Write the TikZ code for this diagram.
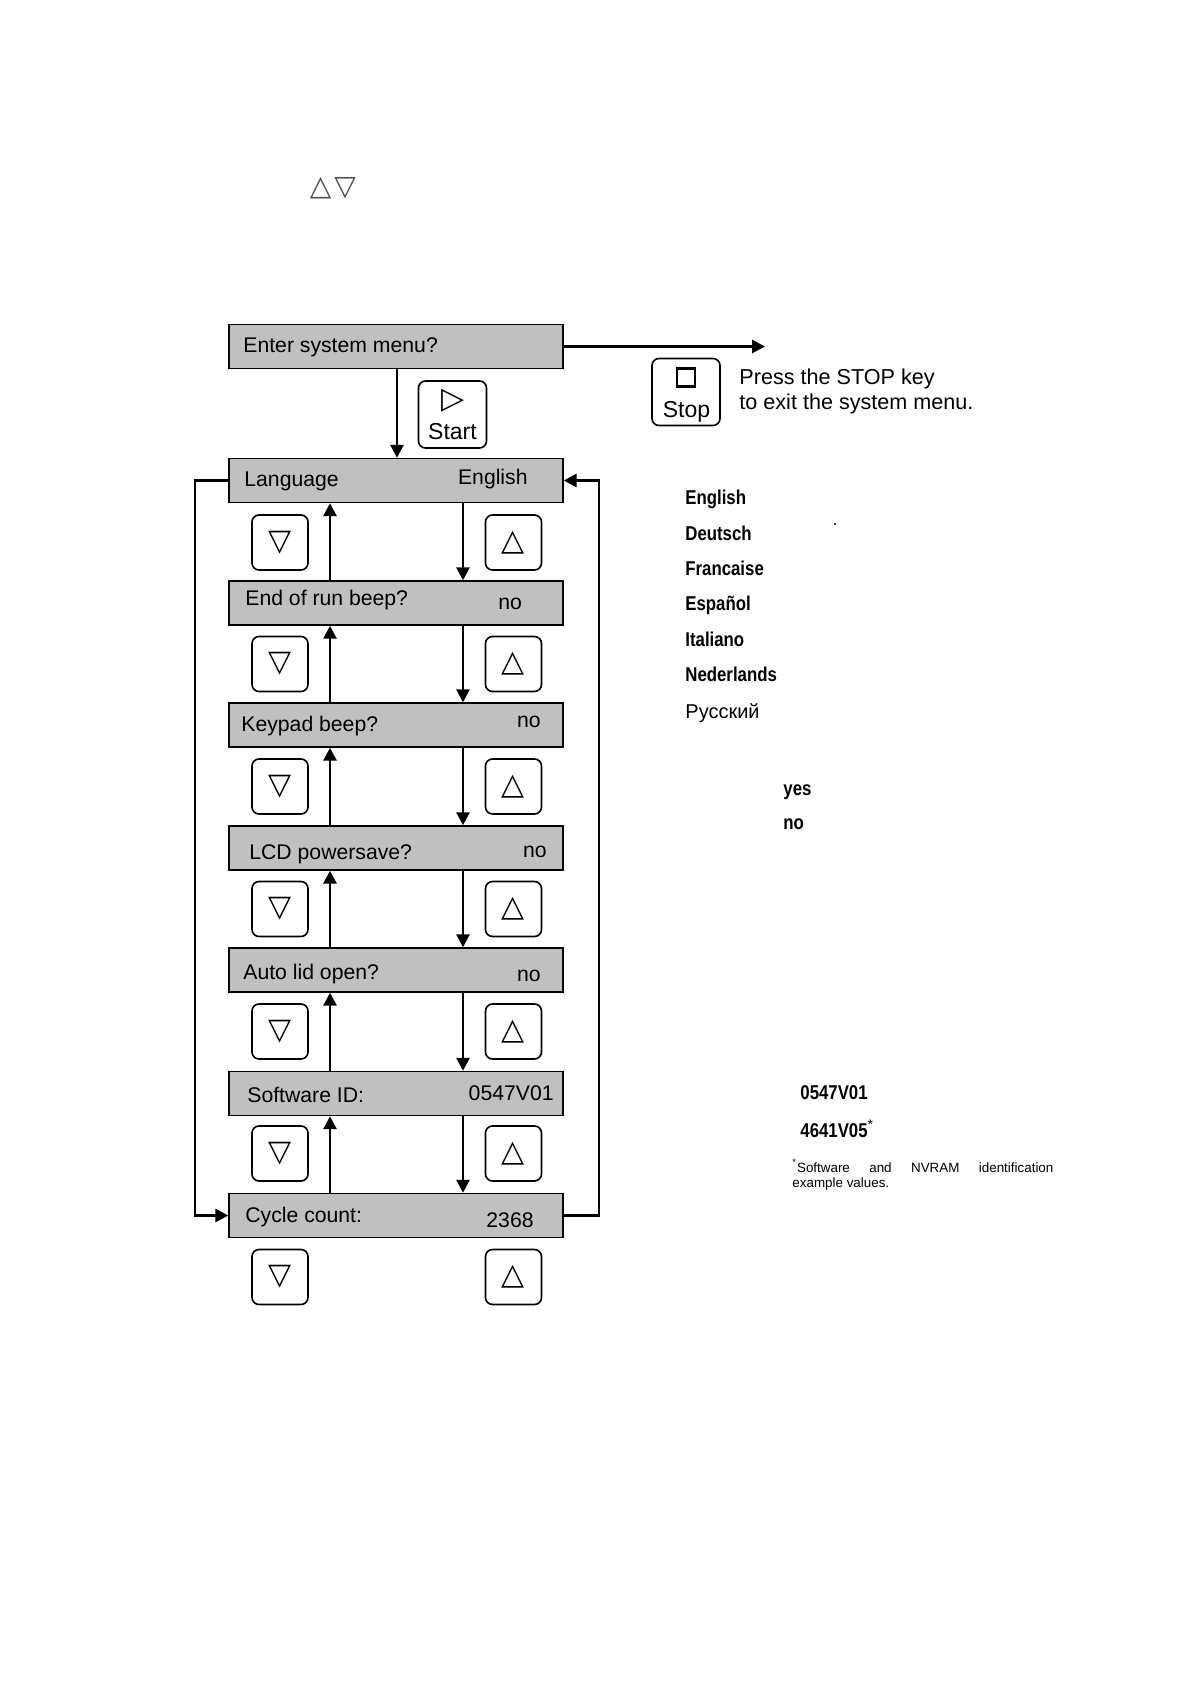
\documentclass[tikz,border=0pt]{standalone}
\usepackage{fontspec}
\setmainfont{Liberation Sans}
\newfontfamily\symfont{DejaVu Sans}
\newfontfamily\narrowfont[FakeStretch=0.84]{Liberation Sans}
\usetikzlibrary{arrows.meta}
\definecolor{boxgray}{RGB}{192,192,192}
\begin{document}
\begin{tikzpicture}[x=0.5pt,y=-0.5pt,
  menubox/.style={draw=black, line width=0.7pt, fill=boxgray, minimum width=167pt, minimum height=22pt, inner sep=0pt},
  keybox/.style={draw=black, line width=0.8pt, rounded corners=3.5pt, minimum width=28pt, minimum height=27.5pt, inner sep=0pt},
  bigkey/.style={draw=black, line width=0.8pt, rounded corners=3.5pt, minimum width=34pt, minimum height=33.5pt, inner sep=0pt},
  keysym/.style={font=\symfont\fontsize{15}{15}\selectfont, inner sep=0pt},
  lbl/.style={anchor=base west, inner sep=0pt, font=\fontsize{10.6}{12}\selectfont},
  val/.style={anchor=base east, inner sep=0pt, font=\fontsize{10.6}{12}\selectfont},
  opt/.style={anchor=base west, inner sep=0pt, font=\narrowfont\bfseries\fontsize{10}{12}\selectfont},
  note/.style={anchor=base west, inner sep=0pt, font=\fontsize{6.7}{7.5}\selectfont},
  conn/.style={line width=1.4pt, -{Triangle[length=6.5pt,width=6.5pt]}}]
\useasboundingbox (0,0) rectangle (1191,1684);

% top symbols
\node[inner sep=0pt, font=\symfont\fontsize{14}{14}\selectfont, text=black!70] (topsym) at (333,188) {△\hspace{1.5pt}▽};

% menu boxes
\node[menubox] (enter) at (396,346.5) {};
\node[menubox] (lang)  at (396,480.5) {};
\node[menubox] (endr)  at (396,603) {};
\node[menubox] (keyp)  at (396,725) {};
\node[menubox] (lcd)   at (396,848) {};
\node[menubox] (auto)  at (396,970) {};
\node[menubox] (soft)  at (396,1093.5) {};
\node[menubox] (cyc)   at (396,1215.5) {};

% box texts
\node[lbl] (t1) at (243,353) {Enter system menu?};
\node[lbl] (t2) at (244,487) {Language};
\node[val] (v2) at (528,484) {English};
\node[lbl] (t3) at (245,605) {End of run beep?};
\node[lbl] (v3) at (498,609) {no};
\node[lbl] (t4) at (241,731) {Keypad beep?};
\node[val] (v4) at (541,727) {no};
\node[lbl] (t5) at (249,859) {LCD powersave?};
\node[val] (v5) at (547,857) {no};
\node[lbl] (t6) at (243,979) {Auto lid open?};
\node[val] (v6) at (541,981) {no};
\node[lbl] (t7) at (247,1102) {Software ID:};
\node[val] (v7) at (554,1100) {0547V01};
\node[lbl] (t8) at (245,1222) {Cycle count:};
\node[val] (v8) at (534,1227) {2368};

% keys
\foreach \y/\n in {542.5/1,664/2,786.5/3,909/4,1031.5/5,1153.5/6,1277/7}{
  \node[keybox] (dk\n) at (280,\y) {};
  \node[keysym] (dks\n) at (280,\y) {▽};
  \node[keybox] (uk\n) at (513.5,\y) {};
  \node[keysym] (uks\n) at (513.5,\y) {△};
}

% start key
\node[bigkey] (startkey) at (452.5,414.5) {};
\node[keysym] (startsym) at (453,401) {▷};
\node[anchor=base, inner sep=0pt, font=\fontsize{11.5}{12}\selectfont] (starttxt) at (452.5,439) {Start};

% stop key
\node[bigkey] (stopkey) at (686,392) {};
\node[draw=black, line width=1.3pt, minimum size=9pt, inner sep=0pt] (stopsq) at (686,377.5) {};
\node[anchor=base, inner sep=0pt, font=\fontsize{11.5}{12}\selectfont] (stoptxt) at (686.5,417) {Stop};
\node[anchor=base west, inner sep=0pt, font=\fontsize{10.8}{12}\selectfont] (stopinfo1) at (739,385) {Press the STOP key};
\node[anchor=base west, inner sep=0pt, font=\fontsize{10.8}{12}\selectfont] (stopinfo2) at (739,409) {to exit the system menu.};

% connectors
\coordinate (sx) at (397,0);
\coordinate (ux) at (330,0);
\coordinate (dx) at (463,0);
\coordinate (lx) at (195,0);
\coordinate (rx) at (599,0);
\coordinate (exitpt) at (765,346.5);

\draw[conn] (enter.east) -- (exitpt);
\draw[conn] (enter.south -| sx) -- (lang.north -| sx);

\foreach \a/\b in {lang/endr,endr/keyp,keyp/lcd,lcd/auto,auto/soft,soft/cyc}{
  \draw[conn] (\b.north -| ux) -- (\a.south -| ux);
  \draw[conn] (\a.south -| dx) -- (\b.north -| dx);
}

\draw[conn] (lang.west) -- (lang.west -| lx) -- (cyc.west -| lx) -- (cyc.west);
\draw[conn] (cyc.east) -- (cyc.east -| rx) -- (lang.east -| rx) -- (lang.east);

% right-hand options
\node[opt] (o1) at (685,504) {English};
\node[opt] (o2) at (685,540) {Deutsch};
\node[opt] (o3) at (685,575) {Francaise};
\node[opt] (o4) at (685,610) {Español};
\node[opt] (o5) at (685,646) {Italiano};
\node[opt] (o6) at (685,681) {Nederlands};
\node[anchor=base west, inner sep=0pt, font=\fontsize{10}{12}\selectfont] (o7) at (685,718) {Русский};
\fill (835,524) circle (0.6pt);

\node[opt] (y1) at (783,795) {yes};
\node[opt] (n1) at (783,829) {no};

\node[opt] (id1) at (800,1099) {0547V01};
\node[opt] (id2) at (800,1137) {4641V05\textsuperscript{\normalfont *}};

\node[note] (foot1) at (792,1172) {\makebox[130.5pt][s]{\textsuperscript{*}Software and NVRAM identification}};
\node[note] (foot2) at (792,1187) {example values.};
\end{tikzpicture}
\end{document}
